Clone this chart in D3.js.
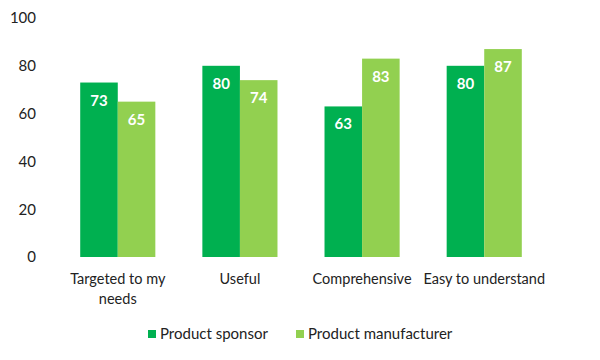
<!DOCTYPE html>
<html><head><meta charset="utf-8">
<script src="https://cdn.jsdelivr.net/npm/d3@7"></script>
<style>body{margin:0;background:#fff}svg{display:block;font-family:Lato,"Open Sans",sans-serif}</style>
</head><body><svg id="c" width="600" height="360"></svg>
<script>
const categories = [["Targeted to my","needs"],["Useful"],["Comprehensive"],["Easy to understand"]];
const seriesNames = ["Product sponsor","Product manufacturer"];
const sponsor = [73,80,63,80];
const manufacturer = [65,74,83,87];
const yTicks = [0,20,40,60,80,100];
const colors = ["#00B050","#92D050"];

const svg = d3.select("#c");
const x = d3.scaleBand().domain(d3.range(categories.length)).range([57,545]).paddingInner(0.385).paddingOuter(0.19);
const x1 = d3.scaleBand().domain([0,1]).range([0,x.bandwidth()]);
const y = d3.scaleLinear().domain([0,100]).range([257,18]);

const yAxis = svg.append("g").attr("transform","translate(40,0)")
  .call(d3.axisLeft(y).tickValues(yTicks).tickSize(0).tickPadding(4));
yAxis.select(".domain").remove();
yAxis.selectAll("text").attr("font-size",15).attr("fill","#222").attr("font-family","Lato,'Open Sans',sans-serif");

const series = [sponsor, manufacturer];
series.forEach((vals,si)=>{
  const g = svg.append("g");
  g.selectAll("rect").data(vals).join("rect")
    .attr("x",(d,i)=>x(i)+x1(si)).attr("width",x1.bandwidth())
    .attr("y",d=>y(d)).attr("height",d=>y(0)-y(d)).attr("fill",colors[si]);
  g.selectAll("text").data(vals).join("text")
    .attr("x",(d,i)=>x(i)+x1(si)+x1.bandwidth()/2).attr("y",d=>y(d)+23)
    .attr("text-anchor","middle").attr("fill","#fff").attr("font-weight","bold").attr("font-size",15)
    .text(d=>d);
});

const xg = svg.append("g");
categories.forEach((lines,i)=>{
  const t = xg.append("text").attr("text-anchor","middle").attr("font-size",14.5).attr("fill","#222")
    .attr("x",x(i)+x.bandwidth()/2).attr("y",284);
  lines.forEach((l,j)=>t.append("tspan").attr("x",x(i)+x.bandwidth()/2).attr("dy",j?20:0).text(l));
});

const legX = [148,296];
seriesNames.forEach((n,i)=>{
  svg.append("rect").attr("x",legX[i]).attr("y",330).attr("width",8).attr("height",8).attr("fill",colors[i]);
  svg.append("text").attr("x",legX[i]+12).attr("y",339).attr("font-size",15).attr("fill","#222").text(n);
});
</script></body></html>
